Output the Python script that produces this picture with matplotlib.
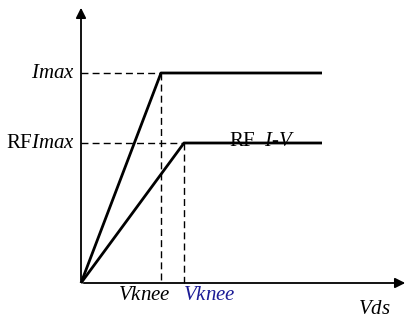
import matplotlib.pyplot as plt

plt.rcParams['font.family'] = ['Liberation Serif']
plt.rcParams['mathtext.fontset'] = 'custom'
plt.rcParams['mathtext.rm'] = 'Liberation Serif'
plt.rcParams['mathtext.it'] = 'Liberation Serif:italic'

# knee voltages (DC, RF) and current levels, in pixel-like units
vknee = [80, 103]
imax = [210, 140]
v_end = 241
x_axis_len = 327
y_axis_len = 278

fig = plt.figure(figsize=(4.12, 3.24), dpi=100)
ax = fig.add_axes([0, 0, 1, 1])
ax.set_xlim(-81, 412 - 81)
ax.set_ylim(-41, 283)
ax.axis('off')

# axes with arrows
ax.annotate('', xy=(x_axis_len, 0), xytext=(0, 0),
            arrowprops=dict(arrowstyle='-|>', color='black', lw=1.3, mutation_scale=15))
ax.annotate('', xy=(0, y_axis_len), xytext=(0, 0),
            arrowprops=dict(arrowstyle='-|>', color='black', lw=1.3, mutation_scale=15))

# I-V curves
for vk, im in zip(vknee, imax):
    ax.plot([0, vk, v_end], [0, im, im], color='black', lw=2, solid_capstyle='butt')
    ax.plot([0, vk], [im, im], color='black', lw=1, ls=(0, (5, 3)))
    ax.plot([vk, vk], [im, 0], color='black', lw=1, ls=(0, (5, 3)))

fs = 15
ax.text(-6, imax[0], r'$\mathit{Imax}$', ha='right', va='center', fontsize=fs)
ax.text(-6, imax[1], r'$\mathrm{RF}\mathit{Imax}$', ha='right', va='center', fontsize=fs)
ax.text(181, imax[1] - 3, r'RF  $\mathit{I}$-$\mathit{V}$', ha='center', va='baseline', fontsize=fs)
ax.text(vknee[0] - 17, -12, r'$\mathit{Vknee}$', ha='center', va='center', fontsize=fs)
ax.text(vknee[1] + 25, -12, r'$\mathit{Vknee}$', ha='center', va='center', fontsize=fs,
        color='#1c1c96')
ax.text(293, -27, r'$\mathit{Vds}$', ha='center', va='center', fontsize=fs)

fig.savefig('out.png', dpi=100)
